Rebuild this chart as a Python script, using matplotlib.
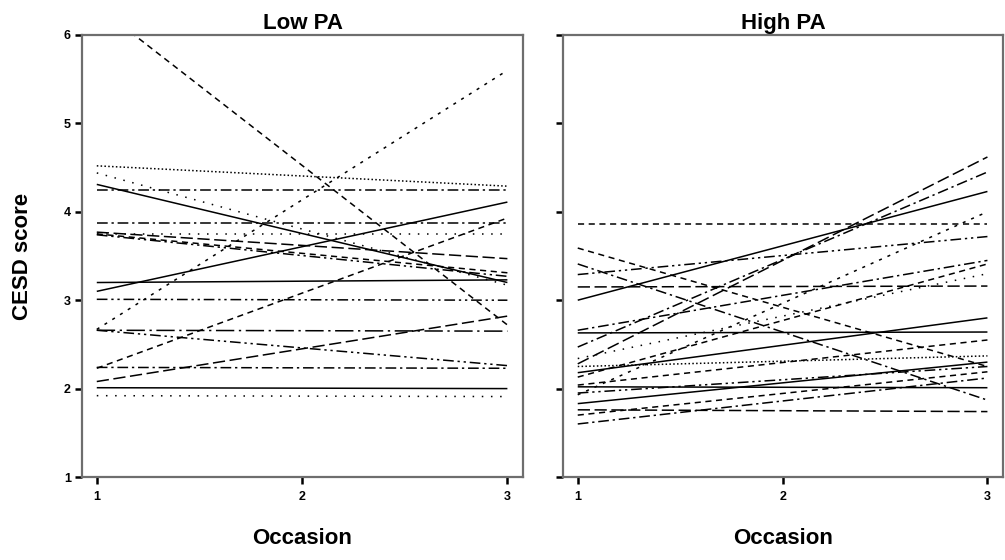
import matplotlib
matplotlib.use("Agg")
import matplotlib.pyplot as plt

# ---------------- data ----------------
occasions = [1, 3]
x_ticks = [1, 2, 3]
y_ticks = [1, 2, 3, 4, 5, 6]
panel_titles = ["Low PA", "High PA"]

# Low PA: fitted value at occasion 1 and occasion 3 for each person
low_start = [6.33, 2.67, 4.52, 4.44, 4.31, 4.25, 3.87, 3.77, 3.75, 3.75, 3.74,
             3.20, 3.10, 3.01, 2.66, 2.66, 2.23, 2.24, 2.08, 2.01, 1.92]
low_end = [2.72, 5.60, 4.29, 3.17, 3.20, 4.25, 3.87, 3.47, 3.31, 3.75, 3.27,
           3.23, 4.11, 3.00, 2.65, 2.26, 3.93, 2.23, 2.82, 2.00, 1.91]
low_style = ["dash", "dot", "densedot", "sparsedot", "solid", "dashdot", "dashdot",
             "longdash", "dash", "sparsedot", "dashdotdot",
             "solid", "solid", "dashdotdot", "longdashdot", "dashdotdot", "dash",
             "dashdot", "longdash", "solid", "sparsedot"]

# High PA
high_start = [3.86, 3.00, 3.15, 2.63, 1.76, 3.59, 3.41, 3.29, 2.28, 2.47, 1.93,
              2.66, 2.13, 2.34, 2.18, 2.04, 2.02, 1.83, 1.70, 1.60, 2.25, 1.95]
high_end = [3.86, 4.23, 3.16, 2.64, 1.74, 2.25, 1.87, 3.72, 4.62, 4.45, 4.00,
            3.45, 3.41, 3.30, 2.80, 2.55, 2.01, 2.30, 2.19, 2.12, 2.37, 2.25]
high_style = ["dash", "solid", "longdash", "solid", "longdash", "dash", "dashdot",
              "dashdotdot", "longdash", "dashdot", "dot",
              "dashdot", "dash", "sparsedot", "solid", "dash", "solid", "solid",
              "dash", "dashdot", "densedot", "dashdotdot"]

dash_map = {
    "solid": "-",
    "dash": (0, (4, 3)),
    "longdash": (0, (8, 3)),
    "dot": (0, (2, 4)),
    "densedot": (0, (1, 1.5)),
    "sparsedot": (0, (1, 5)),
    "dashdot": (0, (7, 2.5, 1.5, 2.5)),
    "dashdotdot": (0, (7, 2.5, 1.5, 2.5, 1.5, 2.5)),
    "longdashdot": (0, (12, 3, 1.5, 3)),
}

# ---------------- figure ----------------
plt.rcParams["font.family"] = ["Liberation Sans", "DejaVu Sans"]
fig = plt.figure(figsize=(10.05, 5.6), dpi=100)
ax_low = fig.add_axes([82 / 1005, 83 / 560, 441 / 1005, 442 / 560])
ax_high = fig.add_axes([563 / 1005, 83 / 560, 440 / 1005, 442 / 560])

panels = [(ax_low, low_start, low_end, low_style),
          (ax_high, high_start, high_end, high_style)]

for i, (ax, st, en, sty) in enumerate(panels):
    for s, e, k in zip(st, en, sty):
        ax.plot(occasions, [s, e], color="black", lw=1.1,
                linestyle=dash_map[k], solid_capstyle="butt",
                dash_capstyle="butt")
    ax.set_xlim(0.928, 3.076)
    ax.set_ylim(1, 6)
    ax.set_xticks(x_ticks)
    ax.set_yticks(y_ticks)
    ax.set_xticklabels([str(t) for t in x_ticks], fontsize=9, fontweight="bold")
    if i == 0:
        ax.set_yticklabels([str(t) for t in y_ticks], fontsize=9, fontweight="bold")
        ax.set_ylabel("CESD score", fontsize=16, fontweight="bold", labelpad=22)
    else:
        ax.set_yticklabels([])
    ax.tick_params(axis="y", direction="out", length=5, width=1.8,
                   color="black", pad=3)
    ax.tick_params(axis="x", direction="out", length=5, width=1.8,
                   color="black", pad=5)
    for sp in ax.spines.values():
        sp.set_color("#6e6e6e")
        sp.set_linewidth(1.6)
    ax.set_title(panel_titles[i], fontsize=16, fontweight="bold", pad=4)
    ax.set_xlabel("Occasion", fontsize=16, fontweight="bold", labelpad=18)

fig.savefig("out.png", dpi=100, facecolor="white")
